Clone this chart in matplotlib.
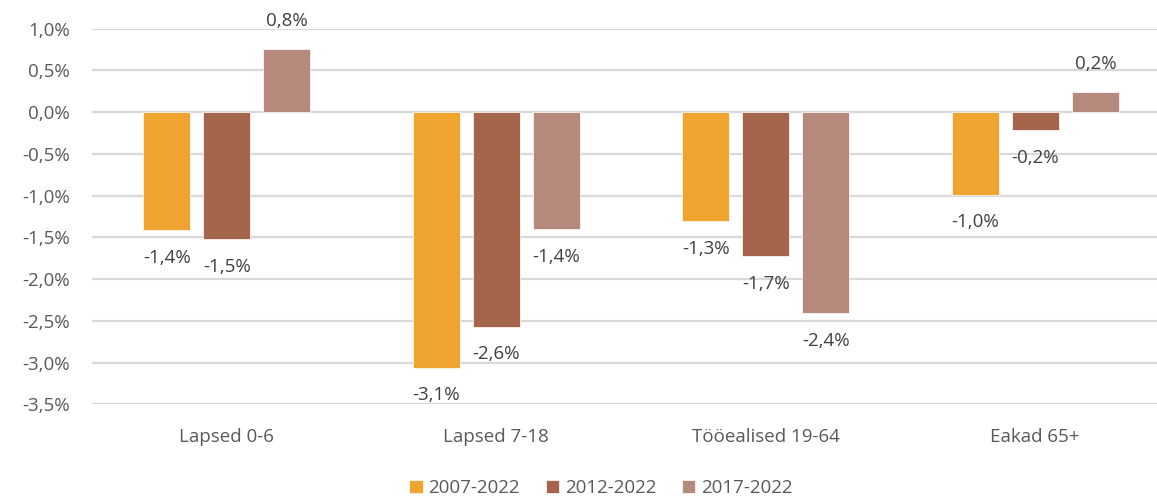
import numpy as np
import matplotlib.pyplot as plt

plt.rcParams['font.family'] = ['Open Sans', 'DejaVu Sans']

# andmed
categories = ['Lapsed 0-6', 'Lapsed 7-18', 'Tööealised 19-64', 'Eakad 65+']
series_names = ['2007-2022', '2012-2022', '2017-2022']
v2007 = [-1.41, -3.06, -1.31, -0.99]
v2012 = [-1.52, -2.57, -1.73, -0.22]
v2017 = [0.76, -1.40, -2.41, 0.245]
colors = ['#F0A430', '#A5644C', '#B5897B']
yticks = [1.0, 0.5, 0.0, -0.5, -1.0, -1.5, -2.0, -2.5, -3.0, -3.5]

text_color = '#595959'

fig = plt.figure(figsize=(11.57, 4.97), dpi=100)
ax = fig.add_axes([92 / 1157, (497 - 404.3) / 497, 1078 / 1157, 375.8 / 497])

x = np.arange(len(categories))
width = 0.174
step = 0.223

for i, (vals, name, col) in enumerate(zip([v2007, v2012, v2017], series_names, colors)):
    pos = x + (i - 1) * step
    bars = ax.bar(pos, vals, width, color=col, label=name, zorder=3,
                  edgecolor='white', linewidth=0.5)
    for px, v in zip(pos, vals):
        txt = f'{v:.1f}'.replace('.', ',') + '%'
        off = 20 if v >= 0 else -20
        ax.annotate(txt, (px, v), xytext=(0, off), textcoords='offset points',
                    ha='center', va='center', fontsize=13.5, color='#404040')

ax.set_xlim(-0.5, 3.5)
ax.set_ylim(-3.5, 1.0)
ax.set_yticks(yticks)
ax.set_yticklabels([f'{t:.1f}'.replace('.', ',') + '%' for t in yticks])
ax.set_xticks(x)
ax.set_xticklabels(categories)
ax.tick_params(axis='both', length=0, labelsize=13.5, colors=text_color)
ax.tick_params(axis='y', pad=16)
ax.tick_params(axis='x', pad=17)
ax.grid(axis='y', color='#d9d9d9', linewidth=1.6, zorder=0)
for s in ax.spines.values():
    s.set_visible(False)

fig.legend(loc='center', bbox_to_anchor=(601 / 1157, 9 / 497), ncol=3, frameon=False,
           fontsize=13.5, labelcolor=text_color, handlelength=0.7, handleheight=0.7,
           handletextpad=0.3, columnspacing=1.4)

plt.savefig('out.png', dpi=100)
